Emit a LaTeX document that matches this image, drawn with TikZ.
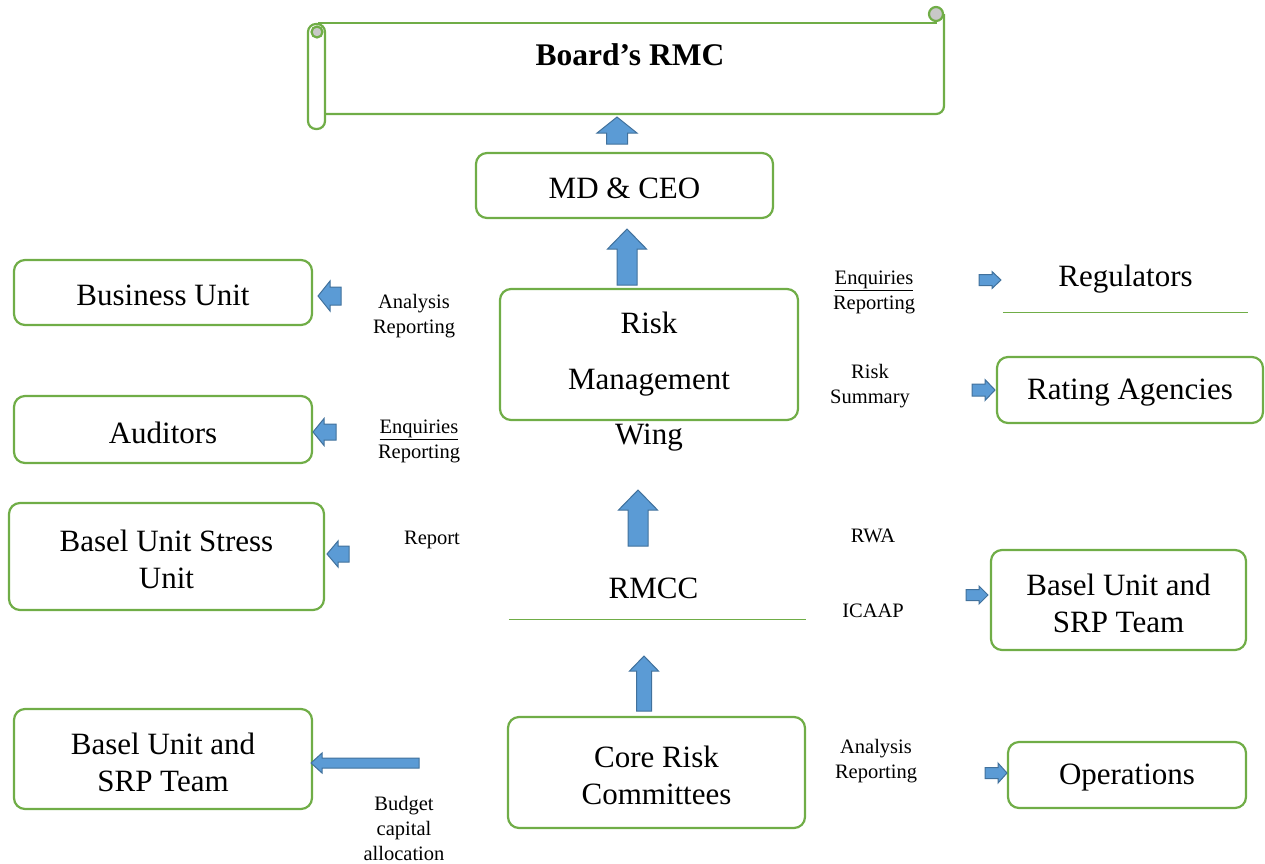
\documentclass[tikz,border=0pt]{standalone}
\usepackage{fontspec}
\setmainfont{Liberation Serif}
\definecolor{grn}{HTML}{70AD47}
\definecolor{blu}{HTML}{5B9BD5}
\definecolor{bluedge}{HTML}{41719C}
\definecolor{rollgray}{HTML}{C8C8C8}
\newcommand\bigtxt{\fontsize{31}{37}\selectfont}
\newcommand\smtxt{\fontsize{20.5}{25}\selectfont}
\begin{document}
\begin{tikzpicture}[x=1pt,y=-1pt,
  box/.style={draw=grn, line width=2.2pt, rounded corners=11pt},
  bigl/.style={align=center, font=\bigtxt, yshift=-3pt},
  lbl/.style={align=center, font=\smtxt, inner sep=0pt, yshift=-2pt},
  rule/.style={draw=grn, line width=1.1pt},
  scroll/.style={draw=grn, line width=2.2pt},
  blk/.style={fill=blu, draw=bluedge, line width=1pt, line join=miter},
  pics/barrow/.style args={#1/#2/#3/#4}{code={
    \draw[blk] (0,-#3/2) -- ({#1-#4},-#3/2) -- ({#1-#4},-#2/2) -- (#1,0)
      -- ({#1-#4},#2/2) -- ({#1-#4},#3/2) -- (0,#3/2) -- cycle;}}
]
\useasboundingbox (0,0) rectangle (1265,863);

% ---- Board's RMC scroll ----
\draw[scroll, rounded corners=8pt] (325,114) -- (944,114) -- (944,14);
\draw[scroll] (318,23) -- (936,23) -- (936,21);
\draw[scroll, fill=rollgray] (936,14) circle (7);
\draw[scroll, fill=white, rounded corners=8pt] (308,24) rectangle (325,129);
\draw[scroll, fill=rollgray] (317,32) circle (5.5);
\node[font=\fontsize{31.5}{37}\selectfont\bfseries, yshift=-2pt] (board) at (630,53) {Board’s RMC};

% ---- boxes ----
\node[box, minimum width=297pt, minimum height=65pt] (ceo) at (624.5,185.5) {};
\node[bigl] (ceot) at (ceo) {MD \& CEO};
\node[box, minimum width=298pt, minimum height=65pt] (bu) at (163,292.5) {};
\node[bigl] (but) at (bu) {Business Unit};
\node[box, minimum width=298pt, minimum height=67pt] (aud) at (163,429.5) {};
\node[bigl] (audt) at (aud) {Auditors};
\node[box, minimum width=315pt, minimum height=107pt] (stress) at (166.5,556.5) {};
\node[bigl] (stresst) at (stress) {Basel Unit Stress\\Unit};
\node[box, minimum width=298pt, minimum height=100pt] (bl) at (163,759) {};
\node[bigl] (blt) at (bl) {Basel Unit and\\SRP Team};
\node[box, minimum width=298pt, minimum height=131pt] (rmw) at (649,354.5) {};
\node[align=center, font=\fontsize{31}{55.5}\selectfont, yshift=-3pt] (rmwt) at (649,379) {Risk\\Management\\Wing};
\node[box, minimum width=266pt, minimum height=66pt] (rat) at (1130,390) {};
\node[bigl] (ratt) at (rat) {Rating Agencies};
\node[box, minimum width=255pt, minimum height=100pt] (br) at (1118.5,600) {};
\node[bigl] (brt) at (br) {Basel Unit and\\SRP Team};
\node[box, minimum width=297pt, minimum height=111pt] (core) at (656.5,772.5) {};
\node[bigl] (coret) at (core) {Core Risk\\Committees};
\node[box, minimum width=238pt, minimum height=66pt] (ops) at (1127,775) {};
\node[bigl] (opst) at (ops) {Operations};

% ---- underlined entries ----
\node[minimum width=245pt, minimum height=72pt] (reg) at (1125.5,276) {};
\node[bigl] (regt) at (reg) {Regulators};
\draw[rule] (reg.south west) -- (reg.south east);
\node[minimum width=297pt, minimum height=68pt] (rmcc) at (657.5,585) {};
\node[bigl, xshift=-4pt] (rmcct) at (rmcc) {RMCC};
\draw[rule, line width=0.9pt] (rmcc.south west) -- (rmcc.south east);

% ---- labels ----
\node[lbl] (l1) at (414,314) {Analysis\\Reporting};
\node[lbl] (l2) at (419,439) {\underline{Enquiries}\\Reporting};
\node[lbl] (l3) at (432,538) {Report};
\node[lbl] (l4) at (874,290) {\underline{Enquiries}\\Reporting};
\node[lbl] (l5) at (870,384) {Risk\\Summary};
\node[lbl] (l6) at (873,534) {RWA};
\node[lbl] (l7) at (873,609) {ICAAP};
\node[lbl] (l8) at (876,759) {Analysis\\Reporting};
\node[lbl] (l9) at (404,826) {Budget\\capital\\allocation};

% ---- block arrows ----
\pic[rotate=90] (a1) at (617,144) {barrow=27/40/21/16};
\pic[rotate=90] (a2) at (627,285) {barrow=56/39/20/20};
\pic[rotate=90] (a3) at (638,546) {barrow=56/39/20/20};
\pic[rotate=90] (a4) at (644,711) {barrow=55/29/15/15};
\pic[rotate=180] (a5) at (341,296) {barrow=23/30/18/12};
\pic[rotate=180] (a6) at (336,432) {barrow=23/27/16/11};
\pic[rotate=180] (a7) at (349,554) {barrow=22/26/16/11};
\pic[rotate=180] (a8) at (419,763) {barrow=108/20/10/11};
\pic (a9) at (979,280) {barrow=22/17/11/9};
\pic (a10) at (972,390) {barrow=23/21/12/10};
\pic (a11) at (966,595) {barrow=22/18/11/9};
\pic (a12) at (985,773) {barrow=22/20/11/9};
\end{tikzpicture}
\end{document}
